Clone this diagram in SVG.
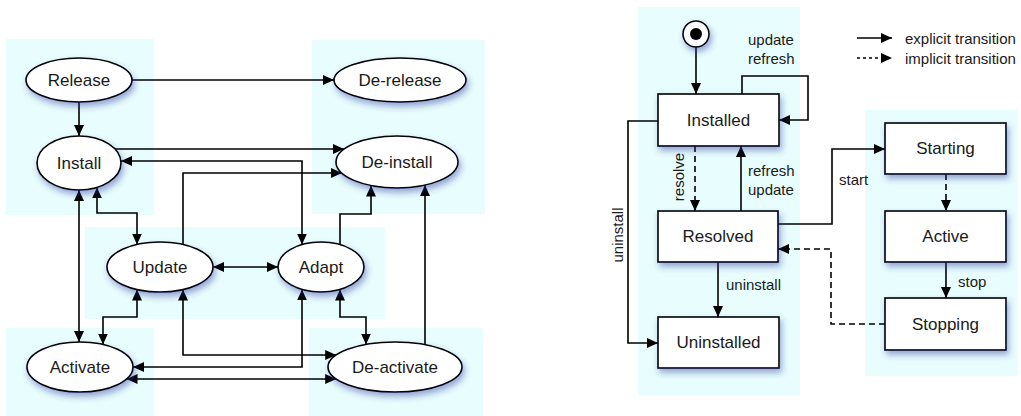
<svg xmlns="http://www.w3.org/2000/svg" width="1021" height="416" viewBox="0 0 1021 416">
<style>
.bg{fill:#e8fdfd}
.n{fill:#fff;stroke:#000;stroke-width:1.6;filter:url(#sh)}
.t{font-family:"Liberation Sans",Arial,sans-serif;font-size:17px;fill:#1a1a1a;text-anchor:middle;dominant-baseline:central}
.l{font-family:"Liberation Sans",Arial,sans-serif;font-size:15px;fill:#1a1a1a;dominant-baseline:central}
.c{fill:none;stroke:#000;stroke-width:1.6}
.a{marker-end:url(#ah)}
.b{marker-start:url(#ah);marker-end:url(#ah)}
.d{stroke-dasharray:6,4}
</style>
<defs>
<filter id="sh" x="-30%" y="-30%" width="160%" height="180%">
<feDropShadow dx="2" dy="4" stdDeviation="3" flood-color="#2a3aa0" flood-opacity="0.45"/>
</filter>
<marker id="ah" markerUnits="userSpaceOnUse" markerWidth="12" markerHeight="10" refX="11" refY="5" orient="auto-start-reverse" viewBox="0 0 12 10">
<path d="M0,0 L11,5 L0,10 z" fill="#000"/>
</marker>
</defs>

<g id="backgrounds">
<rect class="bg" x="6" y="39" width="148" height="176"/>
<rect class="bg" x="312" y="40" width="173" height="174"/>
<rect class="bg" x="85" y="227" width="300" height="92"/>
<rect class="bg" x="6" y="328" width="148" height="88"/>
<rect class="bg" x="309" y="328" width="174" height="88"/>
<rect class="bg" x="638" y="7" width="162" height="388"/>
<rect class="bg" x="865" y="110" width="153" height="266"/>
</g>

<g id="connectors">
<path class="c a" d="M132,80 H334"/>
<path class="c a" d="M79,102 V136"/>
<path class="c a" d="M115,149 H344"/>
<path class="c b" d="M302,244.6 V161 H121"/>
<path class="c a" d="M183,244.5 V173 H342"/>
<path class="c b" d="M97,187.4 V213 H137 V244.5"/>
<path class="c a" d="M340,244.6 V214 H371 V185.5"/>
<path class="c a" d="M425,344.6 V185.1"/>
<path class="c b" d="M79,190 V342"/>
<path class="c b" d="M213,267 H278"/>
<path class="c b" d="M137,289.5 V317 H103 V344.5"/>
<path class="c b" d="M183,289.5 V355 H336.2"/>
<path class="c b" d="M302,289.4 V367 H133"/>
<path class="c b" d="M126.5,379 H336.2"/>
<path class="c b" d="M340,289.6 V317 H366 V344.5"/>

<path class="c a" d="M696,47 V94"/>
<path class="c a" d="M742,94 V76 H808 V120 H779"/>
<path class="c a d" d="M695,146 V211"/>
<path class="c a" d="M741,211 V146"/>
<path class="c a" d="M658,121 H628 V343 H658"/>
<path class="c a" d="M718,262 V317"/>
<path class="c a" d="M778,224 H832 V149 H885"/>
<path class="c a d" d="M946,174 V211"/>
<path class="c a" d="M946,262 V298"/>
<path class="c a d" d="M885,324 H831 V249 H778"/>
<path class="c a" d="M857,38 H892"/>
<path class="c a" d="M857,58 H892" stroke-dasharray="3,3"/>
</g>

<g id="release"><ellipse class="n" cx="79" cy="80" rx="53" ry="22"/><text class="t" x="79" y="80">Release</text></g>
<g id="de-release"><ellipse class="n" cx="400" cy="80" rx="66" ry="22"/><text class="t" x="400" y="80">De-release</text></g>
<g id="install"><ellipse class="n" cx="79" cy="163" rx="42" ry="27"/><text class="t" x="79" y="163">Install</text></g>
<g id="de-install"><ellipse class="n" cx="397" cy="162" rx="61" ry="26"/><text class="t" x="397" y="162">De-install</text></g>
<g id="update"><ellipse class="n" cx="160" cy="267" rx="53" ry="25"/><text class="t" x="160" y="267">Update</text></g>
<g id="adapt"><ellipse class="n" cx="321" cy="267" rx="43" ry="25"/><text class="t" x="321" y="267">Adapt</text></g>
<g id="activate"><ellipse class="n" cx="80" cy="367" rx="53" ry="25"/><text class="t" x="80" y="367">Activate</text></g>
<g id="de-activate"><ellipse class="n" cx="395" cy="367" rx="67" ry="25"/><text class="t" x="395" y="367">De-activate</text></g>

<g id="initial"><circle cx="696" cy="34" r="13" fill="#fff" stroke="#000" stroke-width="1.6" filter="url(#sh)"/><circle cx="696" cy="34" r="6" fill="#000"/></g>
<g id="installed"><rect class="n" x="658" y="94" width="121" height="52"/><text class="t" x="718.5" y="120">Installed</text></g>
<g id="resolved"><rect class="n" x="658" y="211" width="120" height="51"/><text class="t" x="718" y="236.5">Resolved</text></g>
<g id="uninstalled"><rect class="n" x="658" y="317" width="121" height="51"/><text class="t" x="718.5" y="342.5">Uninstalled</text></g>
<g id="starting"><rect class="n" x="885" y="123" width="121" height="51"/><text class="t" x="945.5" y="148.5">Starting</text></g>
<g id="active"><rect class="n" x="885" y="211" width="121" height="51"/><text class="t" x="945.5" y="236.5">Active</text></g>
<g id="stopping"><rect class="n" x="885" y="298" width="121" height="52"/><text class="t" x="945.5" y="324">Stopping</text></g>

<g id="labels">
<text class="l" x="748" y="39">update</text>
<text class="l" x="748" y="58">refresh</text>
<text class="l" x="748" y="170">refresh</text>
<text class="l" x="748" y="189">update</text>
<text class="l" x="839" y="179">start</text>
<text class="l" x="726" y="284">uninstall</text>
<text class="l" x="958" y="281">stop</text>
<text class="l" x="0" y="0" text-anchor="middle" transform="translate(678,177) rotate(-90)">resolve</text>
<text class="l" x="0" y="0" text-anchor="middle" transform="translate(617,235) rotate(-90)">uninstall</text>
<text class="l" x="905" y="38">explicit transition</text>
<text class="l" x="905" y="58">implicit transition</text>
</g>
</svg>
